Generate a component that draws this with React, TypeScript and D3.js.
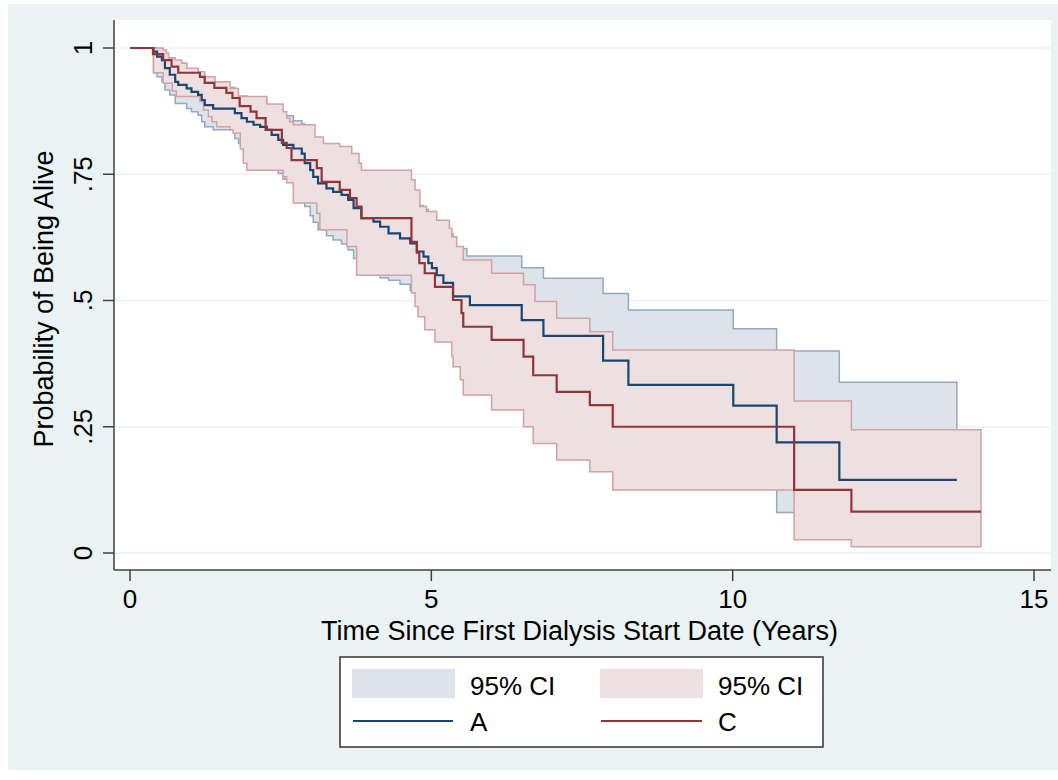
import React, { useEffect, useRef } from "react";
import * as d3 from "d3";

// tick values
const xTicks = [0, 5, 10, 15];
const yTicks = [0, 0.25, 0.5, 0.75, 1];
const yTickLabels = ["0", ".25", ".5", ".75", "1"];

// Kaplan-Meier steps [time, survival], group A
const survA = [[0,1],[0.39,0.993],[0.45,0.983],[0.53,0.976],[0.58,0.960],[0.66,0.947],[0.75,0.933],[0.80,0.927],[0.94,0.920],[1.02,0.913],[1.13,0.907],[1.19,0.897],[1.24,0.887],[1.38,0.880],[1.74,0.871],[1.85,0.861],[1.94,0.854],[2.05,0.848],[2.16,0.844],[2.27,0.838],[2.35,0.828],[2.46,0.818],[2.54,0.808],[2.71,0.801],[2.85,0.791],[2.90,0.772],[2.99,0.758],[3.04,0.745],[3.12,0.732],[3.26,0.722],[3.37,0.715],[3.51,0.709],[3.62,0.699],[3.71,0.683],[3.84,0.663],[4.04,0.656],[4.15,0.646],[4.29,0.633],[4.48,0.623],[4.65,0.613],[4.76,0.597],[4.87,0.587],[4.95,0.574],[5.01,0.564],[5.09,0.550],[5.20,0.535],[5.36,0.508],[5.64,0.491],[6.50,0.461],[6.86,0.430],[7.85,0.381],[8.27,0.333],[10.01,0.292],[10.73,0.219],[11.77,0.145],[13.72,0.145]];
const upperA = [[0,1],[0.45,0.995],[0.58,0.980],[0.75,0.970],[0.94,0.958],[1.13,0.942],[1.38,0.922],[1.74,0.905],[1.94,0.900],[2.05,0.897],[2.27,0.886],[2.46,0.876],[2.54,0.866],[2.71,0.856],[2.85,0.850],[2.90,0.835],[2.99,0.820],[3.04,0.810],[3.12,0.800],[3.26,0.790],[3.37,0.785],[3.51,0.778],[3.62,0.768],[3.71,0.752],[3.84,0.735],[4.04,0.728],[4.15,0.720],[4.29,0.710],[4.48,0.702],[4.65,0.695],[4.76,0.688],[4.87,0.680],[4.95,0.668],[5.01,0.658],[5.09,0.646],[5.20,0.632],[5.36,0.603],[5.59,0.588],[6.50,0.565],[6.86,0.544],[7.85,0.514],[8.27,0.481],[10.01,0.444],[10.73,0.400],[11.77,0.338],[13.72,0.338]];
const lowerA = [[0,1],[0.39,0.951],[0.45,0.943],[0.53,0.933],[0.58,0.917],[0.66,0.907],[0.75,0.890],[0.94,0.880],[1.02,0.874],[1.13,0.867],[1.19,0.854],[1.24,0.844],[1.38,0.838],[1.74,0.821],[1.80,0.811],[1.85,0.801],[2.05,0.795],[2.16,0.785],[2.27,0.775],[2.35,0.765],[2.46,0.752],[2.54,0.740],[2.71,0.728],[2.85,0.712],[2.90,0.686],[2.99,0.668],[3.04,0.655],[3.12,0.640],[3.26,0.628],[3.37,0.620],[3.51,0.612],[3.62,0.600],[3.71,0.583],[3.84,0.565],[4.04,0.555],[4.15,0.545],[4.29,0.540],[4.48,0.532],[4.65,0.520],[4.76,0.503],[4.87,0.490],[4.95,0.478],[5.01,0.466],[5.09,0.452],[5.20,0.437],[5.36,0.410],[5.64,0.392],[6.50,0.360],[6.86,0.330],[7.85,0.280],[8.27,0.235],[10.01,0.190],[10.73,0.080],[11.77,0.030],[13.72,0.030]];

// group C
const survC = [[0,1],[0.38,0.988],[0.55,0.976],[0.69,0.963],[0.80,0.951],[1.16,0.943],[1.24,0.931],[1.40,0.921],[1.60,0.911],[1.70,0.901],[1.82,0.885],[2.00,0.874],[2.10,0.861],[2.25,0.838],[2.52,0.812],[2.60,0.802],[2.68,0.778],[3.10,0.762],[3.18,0.735],[3.48,0.719],[3.65,0.703],[3.76,0.686],[3.84,0.663],[4.67,0.616],[4.76,0.595],[4.80,0.574],[4.89,0.554],[5.06,0.527],[5.36,0.501],[5.50,0.475],[5.53,0.448],[6.00,0.422],[6.53,0.389],[6.69,0.352],[7.08,0.319],[7.63,0.293],[8.01,0.250],[11.02,0.125],[11.97,0.082],[14.12,0.082]];
const upperC = [[0,1],[0.55,0.996],[0.60,0.990],[0.64,0.980],[0.75,0.976],[0.86,0.970],[0.94,0.960],[1.13,0.953],[1.24,0.943],[1.41,0.933],[1.66,0.920],[1.80,0.904],[2.27,0.889],[2.54,0.874],[2.60,0.861],[2.65,0.854],[2.71,0.848],[3.07,0.824],[3.21,0.811],[3.48,0.805],[3.68,0.791],[3.80,0.772],[3.84,0.758],[4.67,0.739],[4.73,0.719],[4.81,0.686],[4.92,0.676],[5.09,0.659],[5.30,0.643],[5.34,0.626],[5.42,0.607],[5.53,0.580],[6.00,0.554],[6.53,0.531],[6.72,0.498],[7.08,0.465],[7.63,0.438],[8.01,0.402],[11.02,0.301],[11.97,0.244],[14.12,0.244]];
const lowerC = [[0,1],[0.39,0.951],[0.55,0.930],[0.70,0.915],[0.77,0.904],[1.16,0.894],[1.22,0.877],[1.30,0.864],[1.36,0.854],[1.44,0.844],[1.66,0.838],[1.71,0.831],[1.83,0.800],[1.88,0.772],[1.94,0.758],[2.54,0.745],[2.60,0.733],[2.71,0.693],[3.10,0.673],[3.15,0.640],[3.60,0.607],[3.76,0.550],[4.67,0.515],[4.73,0.488],[4.78,0.468],[4.89,0.442],[5.06,0.418],[5.34,0.389],[5.36,0.369],[5.48,0.343],[5.53,0.313],[6.00,0.283],[6.53,0.250],[6.69,0.217],[7.08,0.184],[7.63,0.161],[8.01,0.125],[11.02,0.026],[11.97,0.0125],[14.12,0.0125]];

const legendItems = ["95% CI", "95% CI", "A", "C"];

const FONT = "'Liberation Sans', Arial, Helvetica, sans-serif";

const stepAt = (steps, t) => {
    let v = steps[0][1];
    for (const [tt, s] of steps) {
        if (tt <= t + 1e-9) v = s; else break;
    }
    return v;
};

const band = (lower, upper) => {
    const times = Array.from(new Set([...lower.map(d => d[0]), ...upper.map(d => d[0])])).sort((a, b) => a - b);
    return times.map(t => ({ t, lo: stepAt(lower, t), hi: stepAt(upper, t) }));
};

export default function App() {
    const svgRef = useRef(null);

    useEffect(() => {
        const svg = d3.select(svgRef.current);
        svg.selectAll("*").remove();

        const W = 1058;
        const plotL = 114, plotR = 1051, plotT = 20, plotB = 570;

        const x = d3.scaleLinear().domain([0, 15]).range([130, 1034]);
        const y = d3.scaleLinear().domain([0, 1]).range([553, 48]);

        var blueLine = "#1a476f", redLine = "#90353b";
        var blueFill = "#dce3ea", blueEdge = "#93a9bf";
        var redFill = "#eedfe0", redEdge = "#d3a0a4";
        var axisColor = "#404040";

        // background
        svg.append("rect").attr("x", 8).attr("y", 4).attr("width", W - 8).attr("height", 766).attr("fill", "#eaf2f3");
        svg.append("rect").attr("x", plotL).attr("y", plotT).attr("width", plotR - plotL).attr("height", plotB - plotT).attr("fill", "#ffffff");

        // gridlines
        svg.selectAll(".grid").data(yTicks).enter().append("line")
            .attr("x1", plotL).attr("x2", plotR)
            .attr("y1", d => y(d)).attr("y2", d => y(d))
            .attr("stroke", "#eaf2f3").attr("stroke-width", 1.5);

        const area = d3.area().curve(d3.curveStepAfter)
            .x(d => x(d.t)).y0(d => y(d.lo)).y1(d => y(d.hi));
        const line = d3.line().curve(d3.curveStepAfter)
            .x(d => x(d[0])).y(d => y(d[1]));

        svg.append("path").attr("d", area(band(lowerA, upperA)))
            .attr("fill", blueFill).attr("stroke", blueEdge).attr("stroke-width", 1.5);
        svg.append("path").attr("d", area(band(lowerC, upperC)))
            .attr("fill", redFill).attr("stroke", redEdge).attr("stroke-width", 1.5);

        svg.append("path").attr("d", line(survA))
            .attr("fill", "none").attr("stroke", blueLine).attr("stroke-width", 2.2);
        svg.append("path").attr("d", line(survC))
            .attr("fill", "none").attr("stroke", redLine).attr("stroke-width", 2.2);

        // axes
        svg.append("line").attr("x1", plotL).attr("x2", plotL).attr("y1", plotT).attr("y2", plotB)
            .attr("stroke", axisColor).attr("stroke-width", 1.5);
        svg.append("line").attr("x1", plotL).attr("x2", plotR).attr("y1", plotB).attr("y2", plotB)
            .attr("stroke", axisColor).attr("stroke-width", 1.5);

        svg.selectAll(".ytick").data(yTicks).enter().append("line")
            .attr("x1", plotL - 11).attr("x2", plotL)
            .attr("y1", d => y(d)).attr("y2", d => y(d))
            .attr("stroke", axisColor).attr("stroke-width", 1.5);
        svg.selectAll(".xtick").data(xTicks).enter().append("line")
            .attr("x1", d => x(d)).attr("x2", d => x(d))
            .attr("y1", plotB).attr("y2", plotB + 11)
            .attr("stroke", axisColor).attr("stroke-width", 1.5);

        svg.selectAll(".ylab").data(yTicks).enter().append("text")
            .attr("transform", d => `translate(92,${y(d)}) rotate(-90)`)
            .attr("text-anchor", "middle")
            .style("font-family", FONT).style("font-size", "26px").attr("fill", "#000")
            .text((d, i) => yTickLabels[i]);
        svg.selectAll(".xlab").data(xTicks).enter().append("text")
            .attr("x", d => x(d)).attr("y", 608)
            .attr("text-anchor", "middle")
            .style("font-family", FONT).style("font-size", "26px").attr("fill", "#000")
            .text(d => d);

        svg.append("text")
            .attr("transform", `translate(53,${(plotT + plotB) / 2 + 4}) rotate(-90)`)
            .attr("text-anchor", "middle")
            .style("font-family", FONT).style("font-size", "27px").attr("fill", "#000")
            .text("Probability of Being Alive");
        svg.append("text")
            .attr("x", (plotL + plotR) / 2 - 3).attr("y", 640)
            .attr("text-anchor", "middle")
            .style("font-family", FONT).style("font-size", "27px").attr("fill", "#000")
            .text("Time Since First Dialysis Start Date (Years)");

        // legend
        const lg = svg.append("g");
        lg.append("rect").attr("x", 340).attr("y", 657).attr("width", 483).attr("height", 90)
            .attr("fill", "#ffffff").attr("stroke", "#333").attr("stroke-width", 1.5);
        lg.append("rect").attr("x", 352).attr("y", 669).attr("width", 103).attr("height", 29).attr("fill", blueFill);
        lg.append("rect").attr("x", 600).attr("y", 669).attr("width", 103).attr("height", 29).attr("fill", redFill);
        lg.append("line").attr("x1", 353).attr("x2", 453).attr("y1", 721).attr("y2", 721)
            .attr("stroke", blueLine).attr("stroke-width", 2);
        lg.append("line").attr("x1", 601).attr("x2", 702).attr("y1", 721).attr("y2", 721)
            .attr("stroke", redLine).attr("stroke-width", 2);
        const pos = [[470, 695], [718, 695], [470, 731], [718, 731]];
        lg.selectAll(".lt").data(legendItems).enter().append("text")
            .attr("x", (d, i) => pos[i][0]).attr("y", (d, i) => pos[i][1])
            .style("font-family", FONT).style("font-size", "26px").attr("fill", "#000")
            .text(d => d);
    }, []);

    return (
        <svg ref={svgRef} width={1058} height={780} style={{ position: "absolute", left: 0, top: 0 }} />
    );
}
